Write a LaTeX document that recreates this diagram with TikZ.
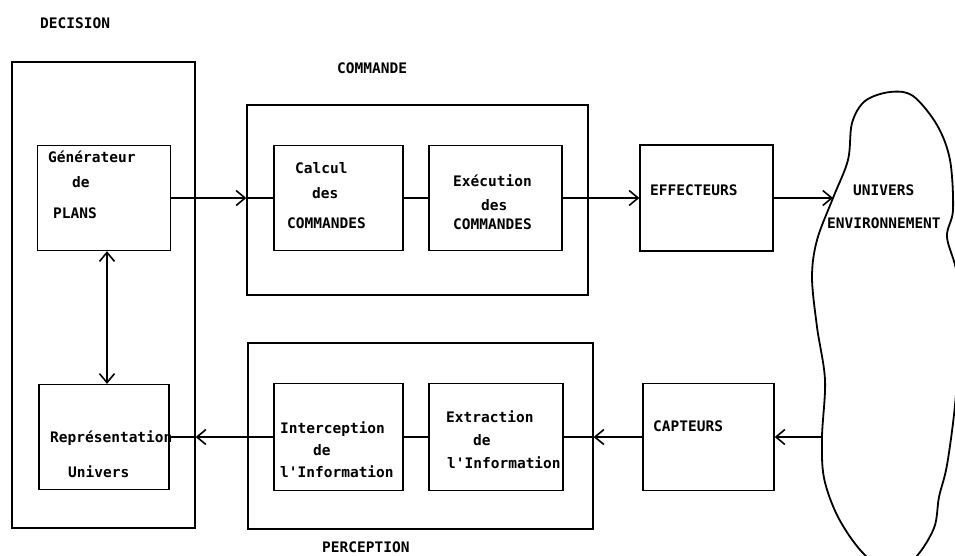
\documentclass[tikz,border=0pt]{standalone}
\usepackage{fontspec}
\newfontfamily\plotterfont{DejaVu Sans Mono}
\usetikzlibrary{arrows.meta}
\begin{document}
\begin{tikzpicture}[x=1pt,y=-1pt,
  box/.style={draw, line width=1.3pt, inner sep=0pt},
  lbl/.style={anchor=base west, inner sep=0pt, font=\plotterfont\bfseries\fontsize{14.5}{16}\selectfont},
  link/.style={line width=1.5pt},
  arr/.style={link, -{Straight Barb[length=9pt,width=15pt,line width=1.6pt]}},
  darr/.style={link, {Straight Barb[length=9pt,width=15pt,line width=1.6pt]}-{Straight Barb[length=9pt,width=15pt,line width=1.6pt]}}]
\useasboundingbox (0,0) rectangle (955,555);
\clip (0,0) rectangle (955,555);

% DECISION block
\node[box, minimum width=183pt, minimum height=466pt] (decision) at (103.5,295) {};
\node[box, minimum width=133pt, minimum height=105pt] (gen) at (104,198) {};
\node[box, minimum width=130pt, minimum height=105pt] (rep) at (104,437) {};

% COMMANDE block
\node[box, minimum width=341pt, minimum height=190pt] (commande) at (417.5,200) {};
\node[box, minimum width=129pt, minimum height=105pt] (calcul) at (338.5,198) {};
\node[box, minimum width=133pt, minimum height=105pt] (exec) at (495.5,198) {};
\node[box, minimum width=133pt, minimum height=106pt] (effect) at (706.5,198) {};

% PERCEPTION block
\node[box, minimum width=345pt, minimum height=186pt] (perception) at (420.5,436) {};
\node[box, minimum width=129pt, minimum height=107pt] (interc) at (338.5,437) {};
\node[box, minimum width=134pt, minimum height=107pt] (extract) at (496,437) {};
\node[box, minimum width=131pt, minimum height=107pt] (capteurs) at (708.5,437) {};

% Environment outline
\draw[line width=1.8pt] plot[smooth cycle, tension=0.55] coordinates {
  (865,101) (890,92) (913,96) (937,125) (950,160) (953,210) (947,237)
  (957,275) (959,340) (955,405) (947,465) (939,497) (934,528) (915,558)
  (890,572) (862,552) (838,517) (824,478) (822,437) (825,380) (817,327)
  (812,277) (817,240) (833,198) (848,160) (852,123)};
\coordinate (envin) at (833,198);
\coordinate (envout) at (822,437);

% Labels
\node[lbl] (tdec) at (40,28) {DECISION};
\node[lbl] (tcom) at (337,73) {COMMANDE};
\node[lbl] (tper) at (322,552) {PERCEPTION};
\node[lbl] (g1) at (48,162) {Générateur};
\node[lbl] (g2) at (72,187) {de};
\node[lbl] (g3) at (53,218) {PLANS};
\node[lbl] (r1) at (50,442) {Représentation};
\node[lbl] (r2) at (68,477) {Univers};
\node[lbl] (c1) at (295,173) {Calcul};
\node[lbl] (c2) at (312,198) {des};
\node[lbl] (c3) at (287,228) {COMMANDES};
\node[lbl] (e1) at (453,186) {Exécution};
\node[lbl] (e2) at (481,210) {des};
\node[lbl] (e3) at (453,229) {COMMANDES};
\node[lbl] (f1) at (650,195) {EFFECTEURS};
\node[lbl] (u1) at (853,195) {UNIVERS};
\node[lbl] (u2) at (827,228) {ENVIRONNEMENT};
\node[lbl] (i1) at (280,433) {Interception};
\node[lbl] (i2) at (313,455) {de};
\node[lbl] (i3) at (280,477) {l'Information};
\node[lbl] (x1) at (446,422) {Extraction};
\node[lbl] (x2) at (473,445) {de};
\node[lbl] (x3) at (447,468) {l'Information};
\node[lbl] (k1) at (653,431) {CAPTEURS};

% Command chain
\draw[arr] (gen.east) -- (gen.east -| commande.west);
\draw[link] (gen.east -| commande.west) -- (calcul.west);
\draw[link] (calcul.east) -- (exec.west);
\draw[arr] (exec.east) -- (effect.west);
\draw[arr] (effect.east) -- (envin);

% Perception chain
\draw[arr] (envout) -- (capteurs.east);
\draw[arr] (capteurs.west) -- (capteurs.west -| perception.east);
\draw[link] (capteurs.west -| perception.east) -- (extract.east);
\draw[link] (extract.west) -- (interc.east);
\draw[arr] (interc.west) -- (interc.west -| decision.east);
\draw[link] (interc.west -| decision.east) -- (rep.east);

% Decision internal link
\draw[darr] ([xshift=3pt]gen.south) -- ([xshift=3pt]rep.north);
\end{tikzpicture}
\end{document}
